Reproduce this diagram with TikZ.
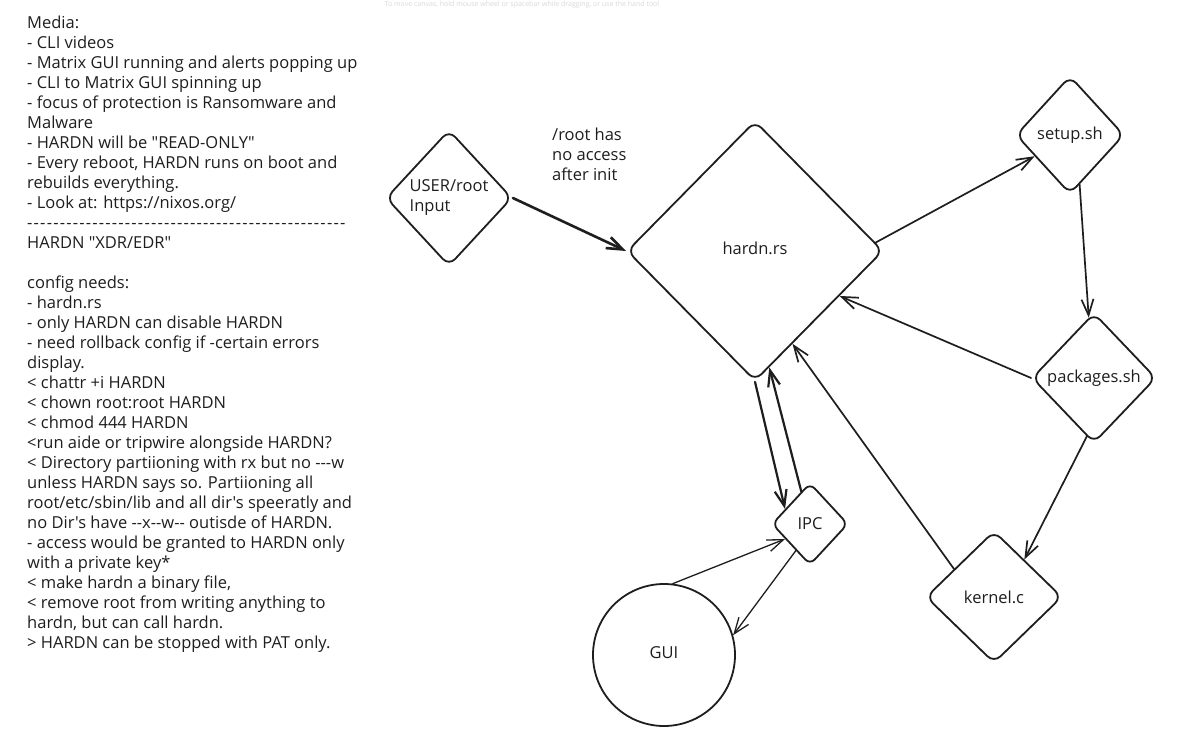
\documentclass[tikz,border=0pt]{standalone}
\usepackage{fontspec}
\setmainfont{Open Sans}[Ligatures=TeXOff]
\usetikzlibrary{shapes.geometric,arrows.meta}
\definecolor{ink}{HTML}{1E1E1E}
\begin{document}
\begin{tikzpicture}[x=1pt,y=-1pt,
  every node/.style={font=\fontsize{16.5}{20}\selectfont, text=ink},
  dia/.style={diamond, draw=ink, line width=1.8pt, rounded corners=9pt, inner sep=0pt, aspect=1},
  arr/.style={draw=ink, -{Straight Barb[length=16pt,width=12pt]}, line width=1.7pt, line cap=round, line join=round},
]
\fill[white] (0,0) rectangle (1178,741);
\useasboundingbox (0,0) rectangle (1178,741);
\node[font=\fontsize{7}{8}\selectfont, text=black!15, anchor=north, inner sep=0pt] (hint) at (522,1) {To move canvas, hold mouse wheel or spacebar while dragging, or use the hand tool};

% notes
\node[anchor=north west, inner sep=0pt, align=left] (notes) at (27,16) {Media:\\
- CLI videos\\
- Matrix GUI running and alerts popping up\\
- CLI to Matrix GUI spinning up\\
- focus of protection is Ransomware and\\
Malware\\
- HARDN will be "READ-ONLY"\\
- Every reboot, HARDN runs on boot and\\
rebuilds everything.\\
- Look at: https://nixos.org/\\
{\addfontfeature{LetterSpace=7.3}-------------------------------------------------}\\
HARDN "XDR/EDR"\\
\mbox{}\\
config needs:\\
- hardn.rs\\
- only HARDN can disable HARDN\\
- need rollback config if -certain errors\\
display.\\
< chattr +i HARDN\\
< chown root:root HARDN\\
< chmod 444 HARDN\\
<run aide or tripwire alongside HARDN?\\
< Directory partiioning with rx but no ---w\\
unless HARDN says so. Partiioning all\\
root/etc/sbin/lib and all dir's speeratly and\\
no Dir's have --x--w-- outisde of HARDN.\\
- access would be granted to HARDN only\\
with a private key*\\
< make hardn a binary file,\\
< remove root from writing anything to\\
hardn, but can call hardn.\\
> HARDN can be stopped with PAT only.};

\node[anchor=north west, inner sep=0pt, align=left] (rootnote) at (552,128) {/root has\\no access\\after init};

% nodes
\node[dia, minimum width=126pt, minimum height=136pt, align=left] (user) at (449,198) {USER/root\\Input};
\node[dia, minimum width=256pt, minimum height=260pt] (hardn) at (755,251) {\raisebox{5pt}{hardn.rs}};
\node[dia, minimum width=108pt, minimum height=118pt] (setup) at (1070,135) {\raisebox{3pt}{setup.sh}};
\node[dia, minimum width=124pt, minimum height=130pt] (pkg) at (1094,378) {packages.sh};
\node[dia, minimum width=136pt, minimum height=132pt] (kernel) at (994,597) {kernel.c};
\node[dia, minimum width=76pt, minimum height=82pt, rounded corners=7pt] (ipc) at (810,524) {IPC};
\node[circle, draw=ink, line width=1.8pt, minimum size=142pt, inner sep=0pt] (gui) at (664,655) {\raisebox{4pt}{GUI}};

% connectors
\draw[arr, line width=2.6pt] (user.east) -- (hardn.west);
\draw[arr] (hardn.4) -- (setup.211);
\draw[arr] (setup.281) -- (pkg.95);
\draw[arr] (pkg.west) -- (hardn.332);
\draw[arr] (pkg.263) -- (kernel.51);
\draw[arr] (kernel.145) -- (hardn.292);
\draw[arr, line width=2.2pt] (hardn.south) -- (ipc.149);
\draw[arr, line width=2.2pt] (ipc.105) -- (hardn.277);
\draw[arr, line width=1.3pt] (gui.83) -- (ipc.211);
\draw[arr, line width=1.3pt] (ipc.242) -- (gui.16);
\end{tikzpicture}
\end{document}
